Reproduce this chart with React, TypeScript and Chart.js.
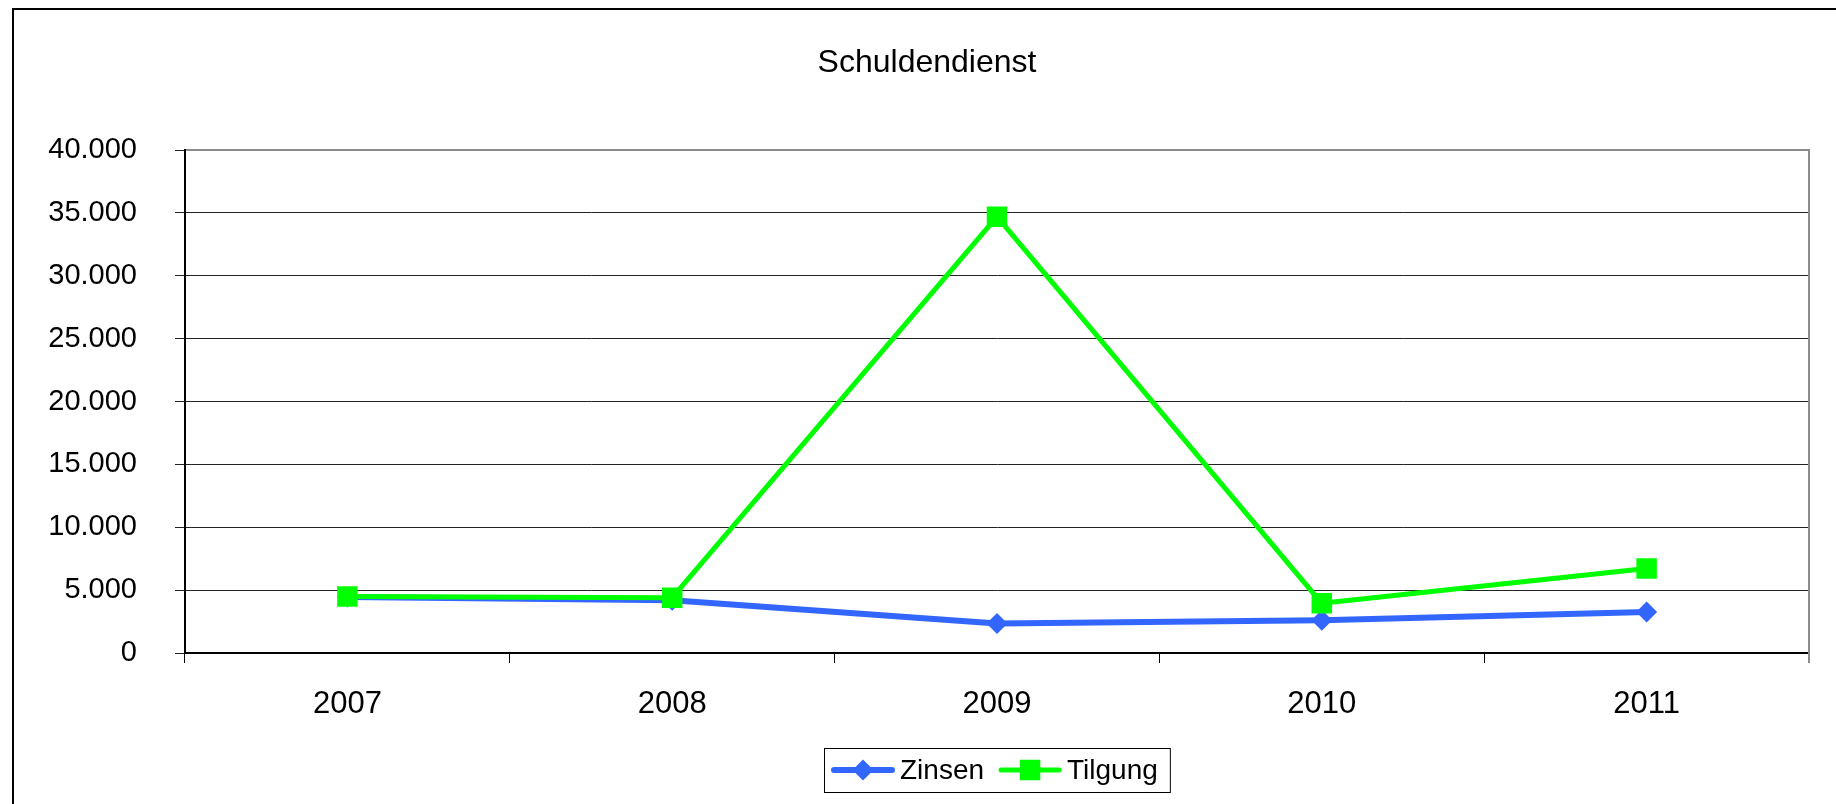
import React, { useEffect, useRef } from 'react';
import { Chart, registerables } from 'chart.js';

Chart.register(...registerables);

const chartTitle = 'Schuldendienst';
const categories = ['2007', '2008', '2009', '2010', '2011'];
const seriesNames = ['Zinsen', 'Tilgung'];
const zinsenValues = [4450, 4200, 2350, 2600, 3270];
const tilgungValues = [4500, 4400, 34700, 3950, 6720];
const yMin = 0;
const yMax = 40000;
const yStep = 5000;

const FONT = "'Liberation Sans', Arial, Helvetica, sans-serif";
const BLUE = '#3366FF';
const GREEN = '#00FF00';

function drawMarker(ctx: CanvasRenderingContext2D, style: string, x: number, y: number, r: number, color: string) {
  ctx.fillStyle = color;
  ctx.beginPath();
  if (style === 'rectRot') {
    ctx.moveTo(x - r, y);
    ctx.lineTo(x, y - r);
    ctx.lineTo(x + r, y);
    ctx.lineTo(x, y + r);
    ctx.closePath();
  } else {
    const s = Math.SQRT1_2 * r;
    ctx.rect(x - s, y - s, 2 * s, 2 * s);
  }
  ctx.fill();
}

const framePlugin = {
  id: 'frame',
  beforeDraw(chart: any) {
    const ctx = chart.ctx;
    ctx.save();
    ctx.fillStyle = '#ffffff';
    ctx.fillRect(0, 0, chart.width, chart.height);
    ctx.fillStyle = '#000000';
    ctx.fillRect(12, 8, 2, chart.height);
    ctx.fillRect(12, 8, chart.width, 2);
    ctx.restore();
  },
  beforeDatasetsDraw(chart: any) {
    const { ctx, chartArea } = chart;
    ctx.save();
    ctx.fillStyle = '#8c8c8c';
    ctx.fillRect(chartArea.left + 1, chartArea.top - 1, chartArea.right - chartArea.left, 2);
    ctx.fillRect(chartArea.right - 1, chartArea.top - 1, 2, chartArea.bottom - chartArea.top + 11);
    ctx.restore();
  },
};

const legendPlugin = {
  id: 'excelLegend',
  afterDraw(chart: any) {
    const { ctx, chartArea } = chart;
    const datasets = chart.data.datasets;
    ctx.save();
    ctx.font = `28px ${FONT}`;
    ctx.textBaseline = 'middle';
    ctx.textAlign = 'left';
    const sample = 62;
    const gapText = 6;
    const gapItem = 15;
    const padL = 8;
    const padR = 12;
    const order = [1, 0];
    let total = padL;
    order.forEach((i, k) => {
      const w = ctx.measureText(datasets[i].label).width;
      total += sample + gapText + w + (k < order.length - 1 ? gapItem : 0);
    });
    total += padR;
    const boxTop = 748;
    const boxH = 44;
    const cy = boxTop + boxH / 2;
    const center = (chartArea.left + chartArea.right) / 2;
    const boxLeft = Math.round(center - total / 2);
    ctx.strokeStyle = '#000000';
    ctx.lineWidth = 1;
    ctx.strokeRect(boxLeft + 0.5, boxTop + 0.5, total, boxH);
    let x = boxLeft + padL;
    order.forEach((i) => {
      const ds = datasets[i];
      ctx.strokeStyle = ds.borderColor;
      ctx.lineWidth = ds.borderWidth;
      ctx.lineCap = 'round';
      ctx.beginPath();
      ctx.moveTo(x + 2, cy);
      ctx.lineTo(x + sample - 2, cy);
      ctx.stroke();
      drawMarker(ctx, ds.pointStyle, x + sample / 2, cy, ds.pointRadius, ds.pointBackgroundColor);
      x += sample + gapText;
      ctx.fillStyle = '#000000';
      ctx.fillText(ds.label, x, cy + 1);
      x += ctx.measureText(ds.label).width + gapItem;
    });
    ctx.restore();
  },
};

export default function App() {
  const canvasRef = useRef<HTMLCanvasElement | null>(null);

  useEffect(() => {
    const canvas = canvasRef.current;
    if (!canvas) return;
    const chart = new Chart(canvas, {
      type: 'line',
      data: {
        labels: categories,
        datasets: [
          {
            label: seriesNames[1],
            data: tilgungValues,
            borderColor: GREEN,
            backgroundColor: GREEN,
            pointBackgroundColor: GREEN,
            pointBorderColor: GREEN,
            pointBorderWidth: 0,
            borderWidth: 5,
            pointStyle: 'rect',
            pointRadius: 14.5,
            pointHoverRadius: 14.5,
            borderJoinStyle: 'round',
            borderCapStyle: 'round',
            tension: 0,
            order: 0,
          } as any,
          {
            label: seriesNames[0],
            data: zinsenValues,
            borderColor: BLUE,
            backgroundColor: BLUE,
            pointBackgroundColor: BLUE,
            pointBorderColor: BLUE,
            pointBorderWidth: 0,
            borderWidth: 6,
            pointStyle: 'rectRot',
            pointRadius: 10.5,
            pointHoverRadius: 10.5,
            borderJoinStyle: 'round',
            borderCapStyle: 'round',
            tension: 0,
            order: 1,
          } as any,
        ],
      },
      options: {
        responsive: false,
        animation: false,
        devicePixelRatio: 1,
        layout: {
          padding: { left: 45, right: 27, top: 44, bottom: 51 },
        },
        plugins: {
          legend: { display: false },
          tooltip: { enabled: false },
          title: {
            display: true,
            text: chartTitle,
            color: '#000000',
            font: { family: FONT, size: 32, weight: 'normal' },
            padding: { top: 0, bottom: 67.6 },
          },
        },
        scales: {
          x: {
            type: 'category',
            offset: true,
            grid: {
              offset: true,
              drawOnChartArea: false,
              drawTicks: true,
              tickLength: 10,
              color: '#000000',
              lineWidth: 1,
            },
            border: { display: true, color: '#000000', width: 2 },
            ticks: {
              color: '#000000',
              font: { family: FONT, size: 31 },
              padding: 23,
              maxRotation: 0,
              autoSkip: false,
            },
            afterFit(scale: any) {
              scale.height = 100;
            },
          },
          y: {
            min: yMin,
            max: yMax,
            grid: {
              color: '#222222',
              lineWidth: 1,
              drawTicks: true,
              tickLength: 10,
            },
            border: { display: true, color: '#000000', width: 2 },
            ticks: {
              stepSize: yStep,
              color: '#000000',
              font: { family: FONT, size: 29 },
              padding: 38,
              callback: (v: any) => Number(v).toLocaleString('de-DE'),
            },
            afterFit(scale: any) {
              scale.width = 140;
            },
          },
        },
      },
      plugins: [framePlugin, legendPlugin],
    });
    return () => chart.destroy();
  }, []);

  return (
    <div style={{ position: 'absolute', left: 0, top: 0, width: 1836, height: 804, background: '#fff' }}>
      <canvas ref={canvasRef} width={1836} height={804} style={{ display: 'block' }} />
    </div>
  );
}
